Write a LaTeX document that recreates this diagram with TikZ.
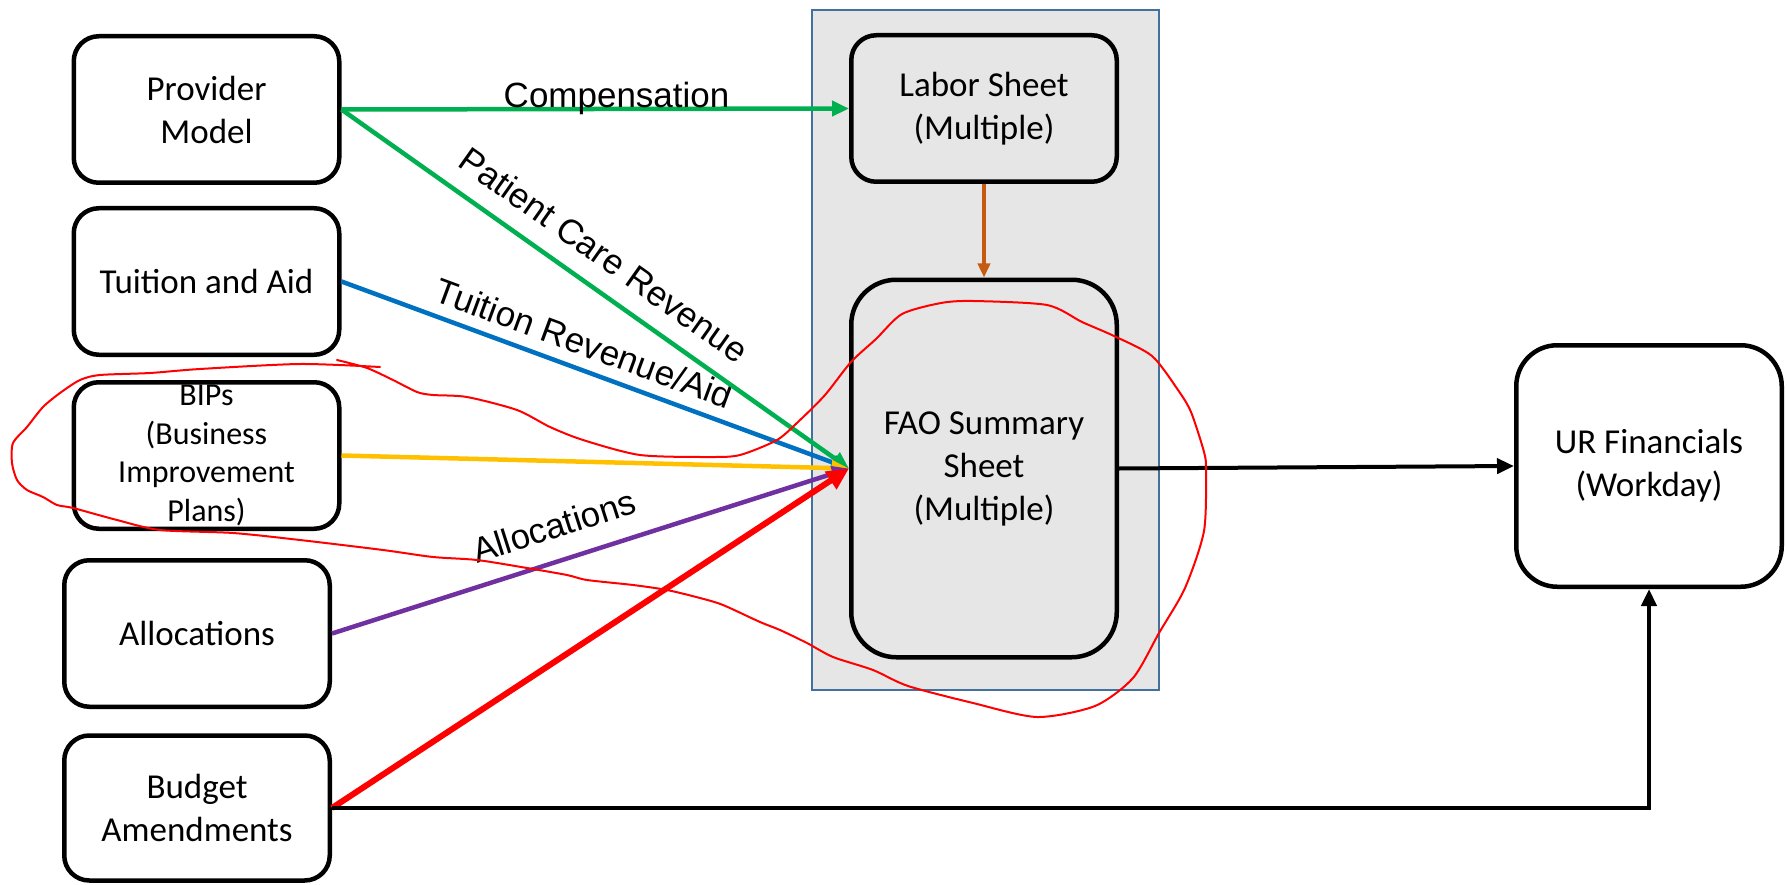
\documentclass[tikz,border=0pt]{standalone}
\usepackage{fontspec}
\setmainfont{Carlito}
\newfontfamily\arialfont{Liberation Sans}
\usetikzlibrary{arrows.meta}
\definecolor{cgreen}{HTML}{00B050}
\definecolor{cblue}{HTML}{0070C0}
\definecolor{cgold}{HTML}{FFC000}
\definecolor{cpurple}{HTML}{7030A0}
\definecolor{cred}{HTML}{FF0000}
\definecolor{cbrown}{HTML}{C55A11}
\definecolor{cgray}{HTML}{E7E6E6}
\definecolor{cframe}{HTML}{41719C}
\begin{document}
\begin{tikzpicture}[x=1pt,y=-1pt,
  box/.style={draw, line width=4.5pt, fill=white, align=center, inner sep=0pt,
    font=\fontsize{35}{43}\selectfont, minimum width=265.5pt, minimum height=146.5pt, rounded corners=25pt},
  lbl/.style={font=\arialfont\fontsize{35}{42}\selectfont, inner sep=0pt, sloped, text=black},
  tip/.style={-{Triangle[length=17pt,width=15pt]}},
  flow/.style={line width=4.5pt, tip},
]
\useasboundingbox (0,0) rectangle (1787,885);
\node[draw=cframe, fill=cgray, line width=2pt, minimum width=347pt, minimum height=680pt, inner sep=0pt] (grp) at (985.5,350) {};

\node[box] (pm) at (206.5,109.5) {Provider\\Model};
\node[box] (ta) at (206.5,281.5) {Tuition and Aid};
\node[box, font=\fontsize{32}{38.5}\selectfont] (bip) at (206.5,455.5) {BIPs\\(Business\\Improvement\\Plans)};
\node[box] (al) at (197,633.5) {Allocations};
\node[box, minimum height=145pt] (ba) at (197,808) {Budget\\Amendments};
\node[box, fill=cgray] (lab) at (984,108.5) {Labor Sheet\\(Multiple)};
\node[box, fill=cgray, rounded corners=45pt, minimum height=377.5pt] (fao) at (984,468.5) {FAO Summary\\Sheet\\(Multiple)};
\node[box, rounded corners=41pt, minimum height=241.5pt] (ur) at (1649,466) {UR Financials\\(Workday)};

\draw[flow, cgreen] (pm.east) -- node[lbl, above=-8pt, pos=0.542]{Compensation} (lab.west);
\draw[flow, cblue] (ta.east) -- node[lbl, above=11pt, pos=0.46]{Tuition Revenue/Aid} (fao.west);
\draw[flow, cgreen] (pm.east) -- node[lbl, above=18pt, pos=0.48]{Patient Care Revenue} (fao.west);
\draw[flow, cgold] (bip.east) -- (fao.west);
\draw[flow, cpurple] (al.east) -- node[lbl, above=20pt, pos=0.45]{Allocations} (fao.west);
\draw[line width=6pt, cred, -{Triangle[length=22pt,width=20pt]}] (ba.east) -- (fao.west);
\draw[line width=3.5pt, cbrown, -{Triangle[length=14pt,width=12pt]}] (lab.south) -- (fao.north);
\draw[line width=4pt, black, tip] (fao.east) -- (ur.west);
\draw[line width=4.5pt, black, tip] (ba.east) -- (ba.east -| ur.south) -- (ur.south);

\draw[cred, line width=2pt, line join=round, line cap=round] plot[smooth, tension=0.45] coordinates {
(380,367) (300,364) (200,369) (150,373) (100,375) (80,380) (60,393) (43,407) (27,427) (13,443)
(12,463) (17,480) (27,490) (43,497) (57,505) (73,508) (117,520) (160,530) (233,533) (300,540)
(383,550) (433,557) (477,560) (527,568) (567,575) (587,580) (633,585) (667,590) (700,598) (723,605)
(760,622) (780,630) (807,643) (833,657) (873,670) (908,686) (973,703) (1037,717) (1095,706) (1133,678)
(1159,633) (1185,588) (1204,531) (1206,470) (1204,452) (1191,412) (1178,390) (1152,356) (1114,336) (1082,322)
(1047,305) (973,301) (941,303) (902,314) (876,339) (851,362) (825,395) (799,421) (777,440) (740,455)
(710,457) (640,455) (583,440) (550,427) (517,410) (467,397) (433,395) (417,392) (393,380) (367,368) (337,360)};
\end{tikzpicture}
\end{document}
